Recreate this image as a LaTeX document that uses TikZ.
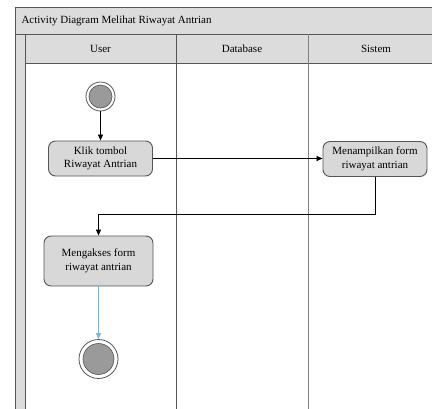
\documentclass[tikz,border=0pt]{standalone}
\usepackage{fontspec}
\setmainfont{Liberation Serif}
\usetikzlibrary{arrows.meta}
\definecolor{panel}{HTML}{DCDCDC}
\definecolor{frame}{HTML}{555555}
\definecolor{actfill}{HTML}{D8D8D8}
\definecolor{dotfill}{HTML}{9A9A9A}
\definecolor{flowblue}{HTML}{7FB2D6}
\begin{document}
\begin{tikzpicture}[x=1pt,y=-1pt,
  txt/.style={font=\fontsize{11}{13.5}\selectfont},
  action/.style={draw=frame, fill=actfill, rounded corners=7pt, line width=0.9pt,
    align=center, inner sep=0pt, txt},
  ring/.style={circle, draw=frame, fill=white, line width=0.8pt, inner sep=0pt},
  dot/.style={circle, draw=frame, fill=dotfill, line width=0.6pt, inner sep=0pt},
  flow/.style={draw=black, line width=0.7pt, -{Triangle[length=6pt,width=5pt]}},
  blueflow/.style={draw=flowblue, line width=0.8pt, -{Triangle[length=6pt,width=5pt]}},
  lane/.style={draw=frame, line width=0.9pt}
]
\useasboundingbox (0,0) rectangle (432,408);

% swimlane frame
\fill[panel] (15,7) rectangle (440,34);
\fill[panel] (25,34) rectangle (440,63.5);
\fill[panel] (15,34) rectangle (25,410);
\draw[lane] (440,7) -- (15,7) -- (15,410);
\draw[lane] (15,34) -- (440,34);
\draw[lane] (25,34) -- (25,410);
\draw[lane] (25,63.5) -- (440,63.5);
\draw[lane] (176,34) -- (176,410);
\draw[lane, draw=gray] (308,34) -- (308,410);

% titles
\node[txt, anchor=west] (title) at (18,21) {Activity Diagram Melihat Riwayat Antrian};
\node[txt] (huser) at (100.5,49) {User};
\node[txt] (hdb) at (242,49) {Database};
\node[txt] (hsys) at (376,49) {Sistem};

% initial node
\node[ring, minimum size=29pt] (start) at (100.5,96.5) {};
\node[dot, minimum size=23pt] (startdot) at (start.center) {};

% actions
\node[action, minimum width=104pt, minimum height=35pt] (klik) at (100.5,158.5)
  {Klik tombol\\Riwayat Antrian};
\node[action, minimum width=104pt, minimum height=35pt] (tampil) at (375,159)
  {Menampilkan form\\riwayat antrian};
\node[action, minimum width=109pt, minimum height=50pt] (akses) at (98.5,261)
  {Mengakses form\\riwayat antrian};

% final node
\node[ring, minimum size=39pt] (end) at (98.5,359) {};
\node[dot, minimum size=31pt] (enddot) at (end.center) {};

% flows
\draw[flow] (start) -- (klik);
\draw[flow] (klik.east) -- (tampil.west |- klik.east);
\draw[flow] (tampil.south) -- (tampil.south |- 0,214) -| (akses.north);
\draw[blueflow] (akses) -- (end);
\end{tikzpicture}
\end{document}
